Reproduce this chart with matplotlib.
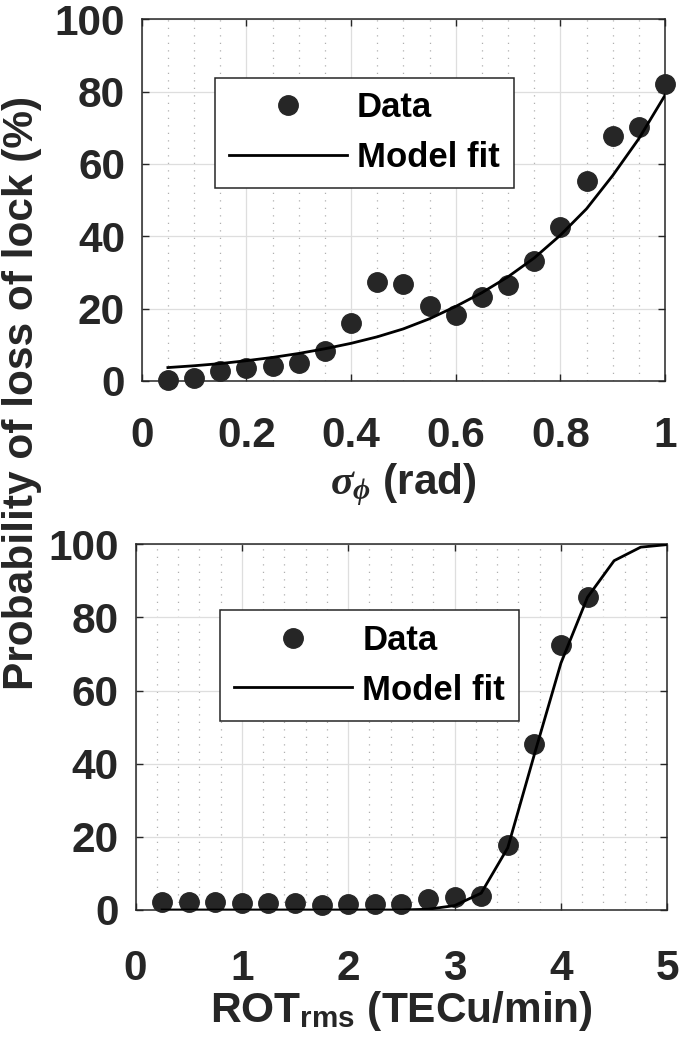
import matplotlib
matplotlib.use("Agg")
import matplotlib.pyplot as plt
from matplotlib.ticker import MultipleLocator, FuncFormatter

# ---------------- data ----------------
sigma_x = [0.05, 0.10, 0.15, 0.20, 0.25, 0.30, 0.35, 0.40, 0.45, 0.50,
           0.55, 0.60, 0.65, 0.70, 0.75, 0.80, 0.85, 0.90, 0.95, 1.00]
sigma_data = [0.3, 0.7, 2.8, 3.5, 4.0, 4.9, 8.3, 16.1, 27.4, 26.7,
              20.7, 18.1, 23.3, 26.5, 33.1, 42.7, 55.3, 67.8, 70.3, 82.1]
sigma_fit = [3.7, 4.2, 4.8, 5.6, 6.5, 7.6, 8.9, 10.4, 12.2, 14.4,
             17.2, 20.6, 24.4, 28.8, 34.0, 40.3, 47.6, 56.8, 67.0, 79.0]

rot_x = [0.25, 0.50, 0.75, 1.00, 1.25, 1.50, 1.75, 2.00, 2.25, 2.50,
         2.75, 3.00, 3.25, 3.50, 3.75, 4.00, 4.25]
rot_data = [2.1, 2.1, 2.1, 2.0, 2.0, 1.9, 1.4, 1.5, 1.6, 1.5,
            3.0, 3.5, 3.9, 17.8, 45.4, 72.4, 85.7]
rot_fit_x = [0.25, 0.50, 0.75, 1.00, 1.25, 1.50, 1.75, 2.00, 2.25, 2.50,
             2.75, 3.00, 3.25, 3.50, 3.75, 4.00, 4.25, 4.50, 4.75, 5.00]
rot_fit = [0.0, 0.0, 0.0, 0.0, 0.0, 0.0, 0.0, 0.0, 0.0, 0.0,
           0.2, 1.2, 4.6, 17.0, 42.5, 67.5, 85.5, 95.5, 99.2, 99.9]

top_xticks = [0, 0.2, 0.4, 0.6, 0.8, 1]
bot_xticks = [0, 1, 2, 3, 4, 5]
yticks = [0, 20, 40, 60, 80, 100]

ylabel_text = "Probability of loss of lock (%)"
top_xlabel = r"$\sigma_{\phi}$ (rad)"
bot_xlabel = r"ROT$_{\mathbf{rms}}$ (TECu/min)"
legend_labels = ["Data", "Model fit"]

# ---------------- style ----------------
plt.rcParams['font.family'] = ['Liberation Sans', 'DejaVu Sans']
plt.rcParams['font.weight'] = 'bold'
plt.rcParams['mathtext.fontset'] = 'custom'
plt.rcParams['mathtext.rm'] = 'Liberation Sans:bold'
plt.rcParams['mathtext.bf'] = 'Liberation Sans:bold'
plt.rcParams['mathtext.it'] = 'Liberation Serif:italic'

DARK = '#262626'
FS = 30.5
LEG_FS = 25

fig = plt.figure(figsize=(6.83, 10.48), dpi=100)
ax1 = fig.add_axes([0.2075, 0.6365, 0.7662, 0.3451])
ax2 = fig.add_axes([0.1984, 0.1317, 0.7786, 0.3490])


def style_axes(ax, xlim, xticks, minor_step, legend_anchor, xpad):
    ax.set_xlim(*xlim)
    ax.set_ylim(0, 100)
    ax.set_xticks(xticks)
    ax.set_yticks(yticks)
    ax.xaxis.set_minor_locator(MultipleLocator(minor_step))
    ax.xaxis.set_major_formatter(FuncFormatter(lambda v, p: f"{v:g}"))
    ax.grid(True, which='major', color='#dedede', lw=0.9)
    ax.grid(True, which='minor', axis='x', color='#b0b0b0', lw=0.9,
            ls=(0, (1, 5)))
    ax.set_axisbelow(True)
    for s in ax.spines.values():
        s.set_color(DARK)
        s.set_linewidth(1.1)
    ax.tick_params(axis='both', which='major', direction='in', length=5,
                   width=1, color=DARK, labelcolor=DARK, labelsize=FS,
                   top=True, right=True)
    ax.tick_params(axis='x', which='major', pad=xpad)
    ax.tick_params(axis='y', which='major', pad=12)
    ax.tick_params(which='minor', length=0, top=True, right=True)
    for lab in ax.get_xticklabels() + ax.get_yticklabels():
        lab.set_fontweight('bold')
    leg = ax.legend(legend_labels, loc='upper left',
                    bbox_to_anchor=legend_anchor, borderaxespad=0,
                    prop={'size': LEG_FS, 'weight': 'bold'},
                    handlelength=3.4, handletextpad=0.3, borderpad=0.4,
                    labelspacing=0.48, fancybox=False, framealpha=1,
                    edgecolor=DARK, numpoints=1)
    leg.get_frame().set_linewidth(1.1)
    for t in leg.get_texts():
        t.set_color('black')


# top panel
ax1.plot(sigma_x, sigma_data, 'o', color=DARK, ms=14, clip_on=False, zorder=3)
ax1.plot(sigma_x, sigma_fit, '-', color='black', lw=2, zorder=4)
style_axes(ax1, (0, 1), top_xticks, 0.05, (0.1395, 0.839), 25)
ax1.set_xlabel(top_xlabel, fontsize=FS, fontweight='bold', color=DARK,
               labelpad=4)

# bottom panel
ax2.plot(rot_x, rot_data, 'o', color=DARK, ms=14, clip_on=False, zorder=3)
ax2.plot(rot_fit_x, rot_fit, '-', color='black', lw=2, zorder=4)
style_axes(ax2, (0, 5), bot_xticks, 0.2, (0.159, 0.82), 28)
ax2.set_xlabel(bot_xlabel, fontsize=FS, fontweight='bold', color=DARK,
               labelpad=0)

fig.text(22 / 683, 1 - 393 / 1048, ylabel_text, rotation=90,
         ha='center', va='center', fontsize=FS, fontweight='bold',
         color=DARK)

fig.savefig('out.png', dpi=100)
